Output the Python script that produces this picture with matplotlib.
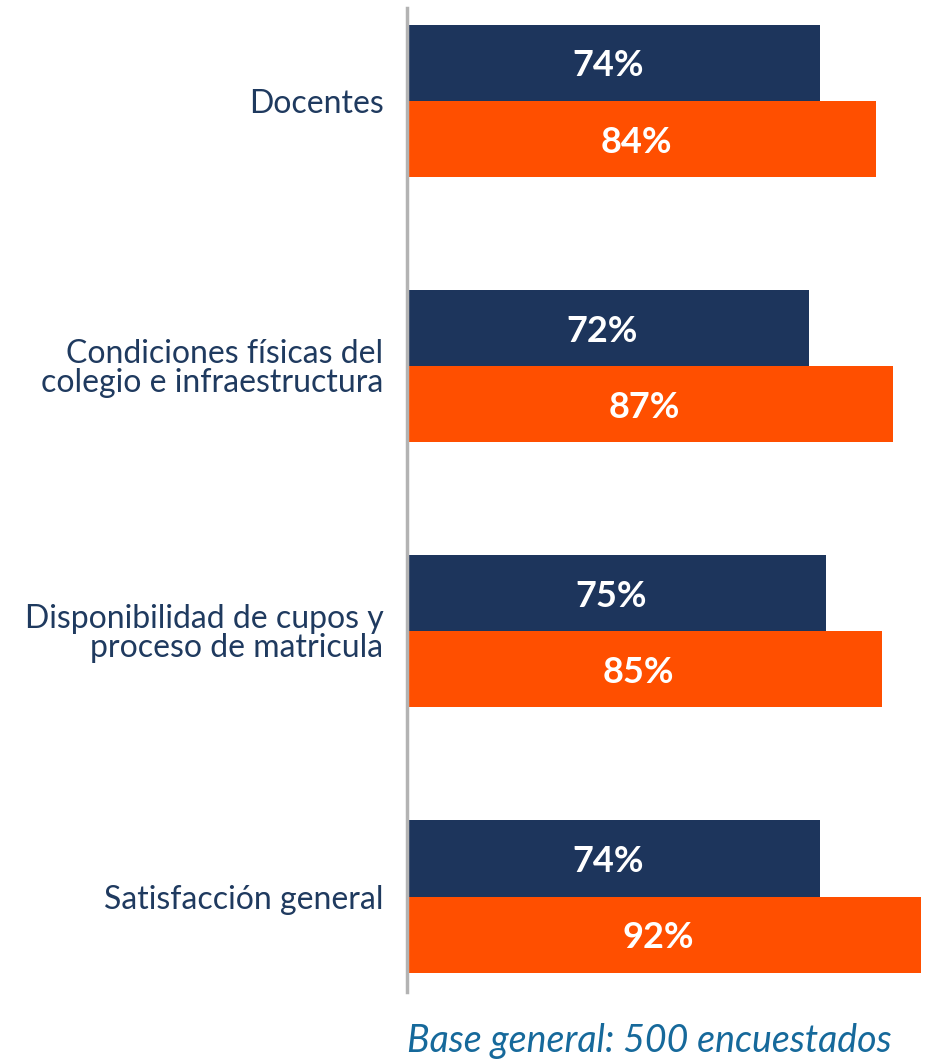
import matplotlib.pyplot as plt
import numpy as np

categories = ["Docentes",
              "Condiciones físicas del\ncolegio e infraestructura",
              "Disponibilidad de cupos y\nproceso de matricula",
              "Satisfacción general"]
serie_a = [74, 72, 75, 74]
serie_b = [84, 87, 85, 92]
footnote = "Base general: 500 encuestados"

navy = "#1d355c"
orange = "#ff4f00"
text_col = "#1f3a5f"

plt.rcParams['font.family'] = ['Lato', 'DejaVu Sans']

fig = plt.figure(figsize=(9.43, 10.62), dpi=100)
ax = fig.add_axes([0.4316, 0.0659, 0.5684, 0.9266])

y = np.arange(len(categories))
h = 0.287
bars_a = ax.barh(y - h / 2, serie_a, height=h, color=navy)
bars_b = ax.barh(y + h / 2, serie_b, height=h, color=orange)

# value labels, white bold, roughly centred in each bar
for bars, vals in ((bars_a, serie_a), (bars_b, serie_b)):
    for b, v in zip(bars, vals):
        ax.text(v / 2 - 1.0, b.get_y() + b.get_height() / 2 + 0.012, f"{v}%",
                ha="center", va="center", color="white",
                fontsize=26, fontweight="bold")

ax.set_xlim(0, 96)
ax.set_ylim(3.36, -0.35)
ax.set_yticks(y)
ax.set_yticklabels(categories, fontsize=23, color=text_col, linespacing=0.95)
ax.tick_params(axis="y", length=0, pad=17)
ax.set_xticks([])
for s in ("top", "right", "bottom"):
    ax.spines[s].set_visible(False)
ax.spines["left"].set_color("#b3b3b3")
ax.spines["left"].set_linewidth(2.5)

fig.text(407 / 943, 1 - 1052 / 1062, footnote, fontsize=27, style="italic",
         color="#16699b", ha="left", va="baseline")

fig.savefig("out.png", dpi=100)
